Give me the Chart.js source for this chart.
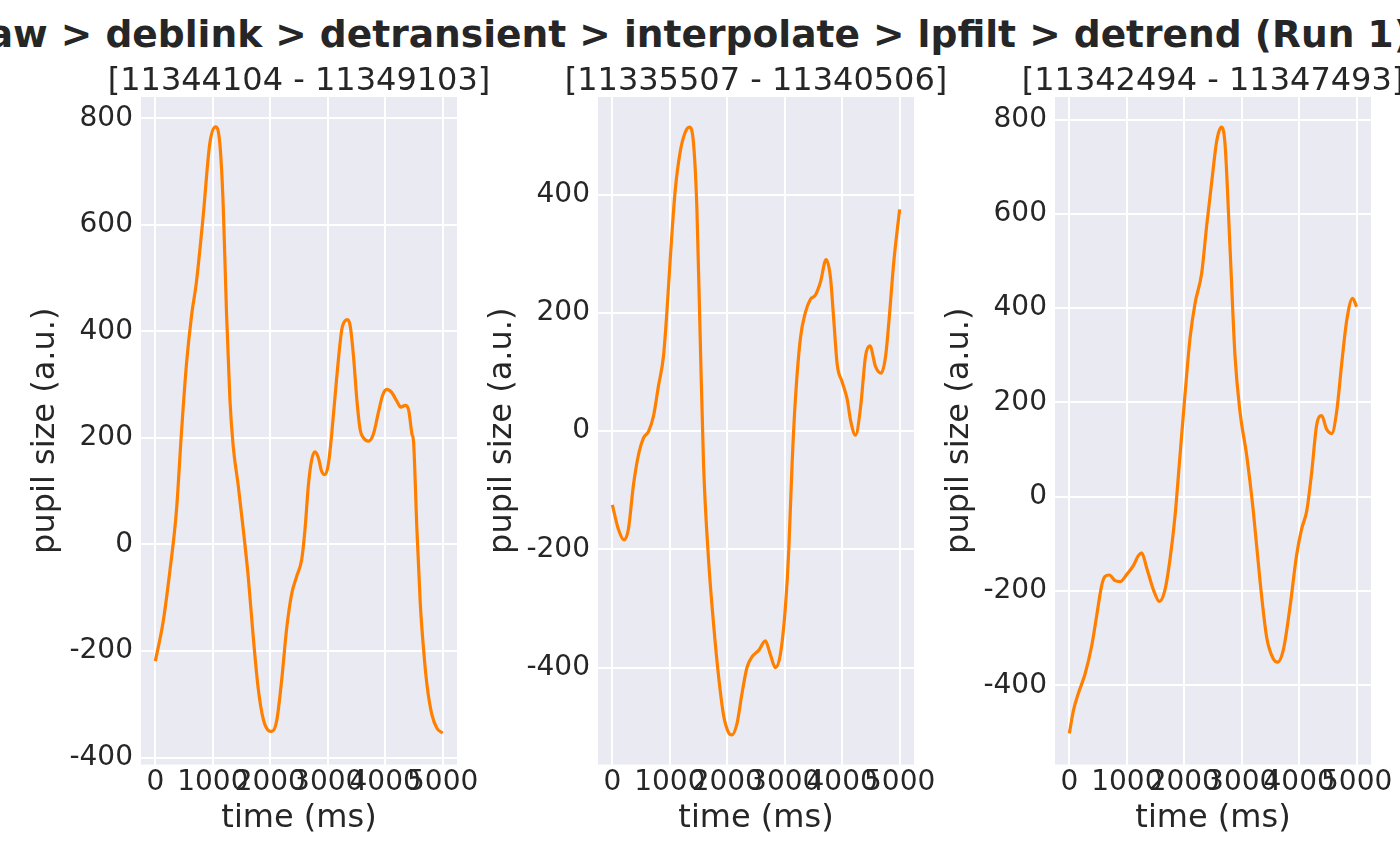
<!DOCTYPE html>
<html lang="en">
<head>
    <meta charset="UTF-8" />
    <title>Pupil preprocessing (Run 1)</title>
    <script src="https://cdn.jsdelivr.net/npm/chart.js"></script>
    <style>
        * {
            box-sizing: border-box;
            margin: 0;
            padding: 0;
        }

        body {
            width: 1400px;
            height: 866px;
            overflow: hidden;
            position: relative;
            background: #ffffff;
            font-family: 'DejaVu Sans', sans-serif;
            color: #262626;
        }

        .suptitle {
            position: absolute;
            left: -310px;
            width: 2000px;
            top: 16px;
            text-align: center;
            font-size: 37.6px;
            font-weight: bold;
            line-height: 1;
            white-space: nowrap;
        }

        .panel {
            position: absolute;
            top: 0;
            width: 497px;
            height: 866px;
        }
    </style>
</head>
<body>
    <div class="suptitle">raw &gt; deblink &gt; detransient &gt; interpolate &gt; lpfilt &gt; detrend (Run 1)</div>

    <div class="panel" style="left: 0px;"><canvas id="chart1" width="497" height="866"></canvas></div>
    <div class="panel" style="left: 457px;"><canvas id="chart2" width="497" height="866"></canvas></div>
    <div class="panel" style="left: 914px;"><canvas id="chart3" width="497" height="866"></canvas></div>

    <script>
        // window titles (sample ranges)
        const panelTitles = ['[11344104 - 11349103]', '[11335507 - 11340506]', '[11342494 - 11347493]'];

        // tick labels
        const timeTicks = [0, 1000, 2000, 3000, 4000, 5000];
        const yTicks1 = [-400, -200, 0, 200, 400, 600, 800];
        const yTicks2 = [-400, -200, 0, 200, 400];
        const yTicks3 = [-400, -200, 0, 200, 400, 600, 800];

        // panel 1 trace (time ms / pupil size a.u.)
        const time1 = [0, 134, 250, 366, 453, 541, 628, 715, 831, 948, 1047, 1122, 1180, 1238, 1297, 1355, 1442, 1529, 1616, 1704,
            1791, 1878, 1965, 2023, 2110, 2198, 2285, 2372, 2459, 2547, 2605, 2663, 2721, 2779, 2837, 2895, 2953, 3012, 3070, 3157,
            3244, 3302, 3343, 3390, 3448, 3506, 3564, 3622, 3709, 3797, 3884, 3959, 4029, 4116, 4203, 4273, 4349, 4407, 4465, 4494,
            4552, 4610, 4669, 4727, 4814, 4901, 5000];
        const pupil1 = [-219, -146, -52, 62, 208, 338, 428, 493, 615, 753, 784, 753, 639, 436, 273, 184, 111, 29, -60, -174,
            -271, -328, -349, -351, -332, -255, -158, -93, -60, -28, 29, 111, 159, 174, 163, 137, 131, 151, 208, 314,
            403, 420, 422, 411, 354, 273, 216, 200, 194, 208, 249, 281, 291, 285, 269, 258, 261, 253, 208, 192,
            29, -109, -198, -263, -320, -345, -354];

        // panel 2 trace
        const time2 = [0, 105, 203, 279, 366, 453, 541, 628, 715, 802, 890, 948, 1006, 1093, 1180, 1267, 1343, 1413, 1471, 1529,
            1587, 1674, 1762, 1849, 1936, 2023, 2081, 2169, 2256, 2343, 2430, 2547, 2663, 2750, 2837, 2924, 3012, 3070, 3128, 3186,
            3273, 3361, 3448, 3535, 3622, 3721, 3797, 3855, 3913, 4000, 4087, 4146, 4233, 4320, 4407, 4483, 4581, 4680, 4756, 4814,
            4901, 5000];
        const pupil2 = [-125, -166, -184, -166, -92, -41, -12, -1, 25, 76, 127, 200, 289, 406, 472, 505, 514, 486, 377, 157,
            -56, -217, -327, -415, -481, -510, -514, -495, -444, -400, -382, -371, -355, -378, -400, -378, -297, -202, -56, 54,
            157, 201, 223, 230, 252, 290, 259, 186, 113, 83, 54, 18, -7, 40, 127, 144, 109, 98, 127, 186,
            289, 375];

        // panel 3 trace
        const time3 = [0, 70, 157, 273, 389, 476, 563, 621, 696, 795, 882, 998, 1114, 1201, 1259, 1346, 1462, 1566, 1665, 1752,
            1839, 1926, 2013, 2100, 2187, 2303, 2390, 2477, 2564, 2645, 2709, 2796, 2883, 2970, 3086, 3202, 3318, 3434, 3550, 3625,
            3724, 3840, 3956, 4043, 4130, 4217, 4304, 4391, 4478, 4565, 4652, 4739, 4826, 4930, 5000];
        const pupil3 = [-502, -454, -417, -376, -316, -252, -188, -169, -166, -178, -180, -165, -146, -125, -119, -151, -197, -222, -197, -132,
            -41, 88, 217, 336, 410, 474, 575, 667, 754, 784, 749, 529, 299, 180, 88, -31, -178, -298, -344, -351,
            -325, -234, -123, -68, -31, 51, 152, 172, 143, 134, 180, 281, 373, 421, 403];

        const textColor = '#262626';
        const fontFamily = "'DejaVu Sans', sans-serif";

        // grey plot background like the seaborn darkgrid style
        const panelBackground = {
            id: 'panelBackground',
            beforeDraw(chart) {
                const { ctx, chartArea } = chart;
                ctx.save();
                ctx.fillStyle = '#EAEAF2';
                ctx.fillRect(chartArea.left, chartArea.top, chartArea.right - chartArea.left, chartArea.bottom - chartArea.top);
                ctx.restore();
            }
        };

        // title centred over the plot area, allowed to overhang it
        const panelTitle = {
            id: 'panelTitle',
            afterDraw(chart, args, opts) {
                const { ctx, chartArea } = chart;
                ctx.save();
                ctx.font = '32px ' + fontFamily;
                ctx.fillStyle = textColor;
                ctx.textAlign = 'center';
                ctx.textBaseline = 'middle';
                ctx.fillText(opts.text, (chartArea.left + chartArea.right) / 2, 81.5);
                ctx.restore();
            }
        };

        function renderPanel(canvasId, title, times, values, yMin, yMax, yTicks) {
            const ctx = document.getElementById(canvasId).getContext('2d');
            new Chart(ctx, {
                type: 'line',
                data: {
                    datasets: [{
                        data: times.map((t, i) => ({ x: t, y: values[i] })),
                        borderColor: '#ff7f00',
                        borderWidth: 3.2,
                        pointRadius: 0,
                        fill: false,
                        cubicInterpolationMode: 'monotone'
                    }]
                },
                options: {
                    responsive: false,
                    animation: false,
                    layout: { padding: { left: 0, right: 40, top: 97, bottom: 0 } },
                    plugins: {
                        legend: { display: false },
                        tooltip: { enabled: false },
                        title: { display: false },
                        panelTitle: { text: title }
                    },
                    scales: {
                        x: {
                            type: 'linear',
                            min: -250,
                            max: 5250,
                            afterBuildTicks: s => { s.ticks = timeTicks.map(v => ({ value: v })); },
                            afterFit: s => { s.height = 101.5; },
                            grid: { color: '#ffffff', lineWidth: 2, drawTicks: false },
                            border: { display: false },
                            ticks: {
                                autoSkip: false,
                                maxRotation: 0,
                                minRotation: 0,
                                padding: 1,
                                color: textColor,
                                font: { family: fontFamily, size: 28, lineHeight: 1.2 },
                                callback: v => String(v)
                            },
                            title: {
                                display: true,
                                text: 'time (ms)',
                                color: textColor,
                                font: { family: fontFamily, size: 32, lineHeight: 1.2 },
                                padding: { top: 0, bottom: 28 }
                            }
                        },
                        y: {
                            min: yMin,
                            max: yMax,
                            afterBuildTicks: s => { s.ticks = yTicks.map(v => ({ value: v })); },
                            afterFit: s => { s.width = 141; },
                            grid: { color: '#ffffff', lineWidth: 2, drawTicks: false },
                            border: { display: false },
                            ticks: {
                                padding: 8,
                                color: textColor,
                                font: { family: fontFamily, size: 28, lineHeight: 1.2 },
                                callback: v => String(v)
                            },
                            title: {
                                display: true,
                                text: 'pupil size (a.u.)',
                                color: textColor,
                                font: { family: fontFamily, size: 32, lineHeight: 1.2 },
                                padding: { top: 26, bottom: 0 }
                            }
                        }
                    }
                },
                plugins: [panelBackground, panelTitle]
            });
        }

        renderPanel('chart1', panelTitles[0], time1, pupil1, -413, 840, yTicks1);
        renderPanel('chart2', panelTitles[1], time2, pupil2, -564, 565, yTicks2);
        renderPanel('chart3', panelTitles[2], time3, pupil3, -568, 848, yTicks3);
    </script>
</body>
</html>
